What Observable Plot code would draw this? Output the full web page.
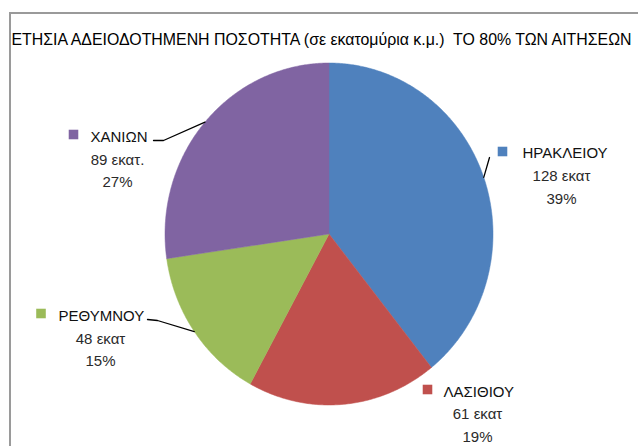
<!DOCTYPE html>
<html><head><meta charset="utf-8">
<script src="https://cdn.jsdelivr.net/npm/d3@7"></script>
<script src="https://cdn.jsdelivr.net/npm/@observablehq/plot@0.6"></script>
<style>
body{margin:0;background:#fff;}
#wrap{position:relative;width:638px;height:446px;overflow:hidden;background:#fff;}
#frame{position:absolute;left:9px;top:12px;width:700px;height:500px;border-left:2px solid #9a9a9a;border-top:2px solid #9a9a9a;}
#chart{position:absolute;left:0;top:0;}
</style></head><body>
<div id="wrap"><div id="frame"></div><div id="chart"></div></div>
<script>
// ---- data ----
const title = "ΕΤΗΣΙΑ ΑΔΕΙΟΔΟΤΗΜΕΝΗ ΠΟΣΟΤΗΤΑ (σε εκατομύρια κ.μ.)  ΤΟ 80% ΤΩΝ ΑΙΤΗΣΕΩΝ";
const regions = ["ΗΡΑΚΛΕΙΟΥ", "ΛΑΣΙΘΙΟΥ", "ΡΕΘΥΜΝΟΥ", "ΧΑΝΙΩΝ"];
const volumes = [128, 61, 48, 89];
const volumeLabels = ["128 εκατ", "61 εκατ", "48 εκατ", "89 εκατ."];
const percentLabels = ["39%", "19%", "15%", "27%"];
const colors = ["#4F81BD", "#C0504D", "#9BBB59", "#8064A2"];

// ---- layout ----
const cx = 328.5, cy = 233.5, rx = 164, ry = 171;
// label layout: key centre, name start, text centre, baselines
const labelLayout = {
  "ΗΡΑΚΛΕΙΟΥ": {kx: 502, ky: 151, nx: 522, tx: 561, b: [157, 180, 203], leader: [[489, 157]]},
  "ΛΑΣΙΘΙΟΥ": {kx: 427, ky: 389, nx: 443, tx: 477, b: [396, 418, 441], leader: null},
  "ΡΕΘΥΜΝΟΥ": {kx: 40.5, ky: 313, nx: 58, tx: 100, b: [320, 343, 365], leader: [[157, 320], [147, 319]]},
  "ΧΑΝΙΩΝ": {kx: 73, ky: 134, nx: 90, tx: 117, b: [141, 164, 186], leader: [[163, 140], [153, 140]]}
};

const total = d3.sum(volumes);
let acc = 0;
const slices = regions.map((r, i) => {
  const a0 = acc / total * 2 * Math.PI; acc += volumes[i];
  const a1 = acc / total * 2 * Math.PI;
  return {region: r, i, a0, a1, mid: (a0 + a1) / 2};
});
const pt = a => [cx + rx * Math.sin(a), cy - ry * Math.cos(a)];
const piePts = slices.flatMap(s => {
  const n = Math.max(2, Math.ceil((s.a1 - s.a0) / (Math.PI / 360)));
  const pts = [{region: s.region, x: cx, y: cy}];
  for (let k = 0; k <= n; k++) {
    const [x, y] = pt(s.a0 + (s.a1 - s.a0) * k / n);
    pts.push({region: s.region, x, y});
  }
  pts.push({region: s.region, x: cx, y: cy});
  return pts;
});
const leaderPts = slices.filter(s => labelLayout[s.region].leader).flatMap(s => {
  const [x, y] = pt(s.mid);
  return [{region: s.region, x, y}, ...labelLayout[s.region].leader.map(([lx, ly]) => ({region: s.region, x: lx, y: ly}))];
});
const labelRows = slices.map(s => ({region: s.region, i: s.i, ...labelLayout[s.region]}));

const font = "'Liberation Sans', Arial, sans-serif";
const chart = Plot.plot({
  width: 638, height: 446, margin: 0,
  x: {domain: [0, 638], range: [0, 638], axis: null},
  y: {domain: [0, 446], range: [0, 446], axis: null},
  color: {domain: regions, range: colors},
  style: {background: "transparent"},
  marks: [
    Plot.line(piePts, {x: "x", y: "y", z: "region", fill: "region", stroke: "region", strokeWidth: 0.5, curve: "linear"}),
    Plot.line(leaderPts, {x: "x", y: "y", z: "region", stroke: "#000", strokeWidth: 1.3}),
    Plot.dot(labelRows, {x: "kx", y: "ky", symbol: "square", r: 5.4, fill: "region", stroke: null}),
    Plot.text(labelRows, {x: "nx", y: d => d.b[0], text: "region", textAnchor: "start", lineAnchor: "bottom", fontSize: 15, fontFamily: font, fill: "#111"}),
    Plot.text(labelRows, {x: "tx", y: d => d.b[1], text: d => volumeLabels[d.i], textAnchor: "middle", lineAnchor: "bottom", fontSize: 15, fontFamily: font, fill: "#2a2a2a"}),
    Plot.text(labelRows, {x: "tx", y: d => d.b[2], text: d => percentLabels[d.i], textAnchor: "middle", lineAnchor: "bottom", fontSize: 15, fontFamily: font, fill: "#2a2a2a"}),
    Plot.text([title], {x: 11, y: 44.5, text: d => d, textAnchor: "start", lineAnchor: "bottom", fontSize: 15.8, fontFamily: "'Liberation Sans', Arial, sans-serif", fill: "#000"})
  ]
});
document.getElementById("chart").appendChild(chart);
d3.select(chart).selectAll("text").filter(function () { return this.textContent === title; })
  .attr("textLength", 620).attr("lengthAdjust", "spacingAndGlyphs");
</script>
</body></html>
